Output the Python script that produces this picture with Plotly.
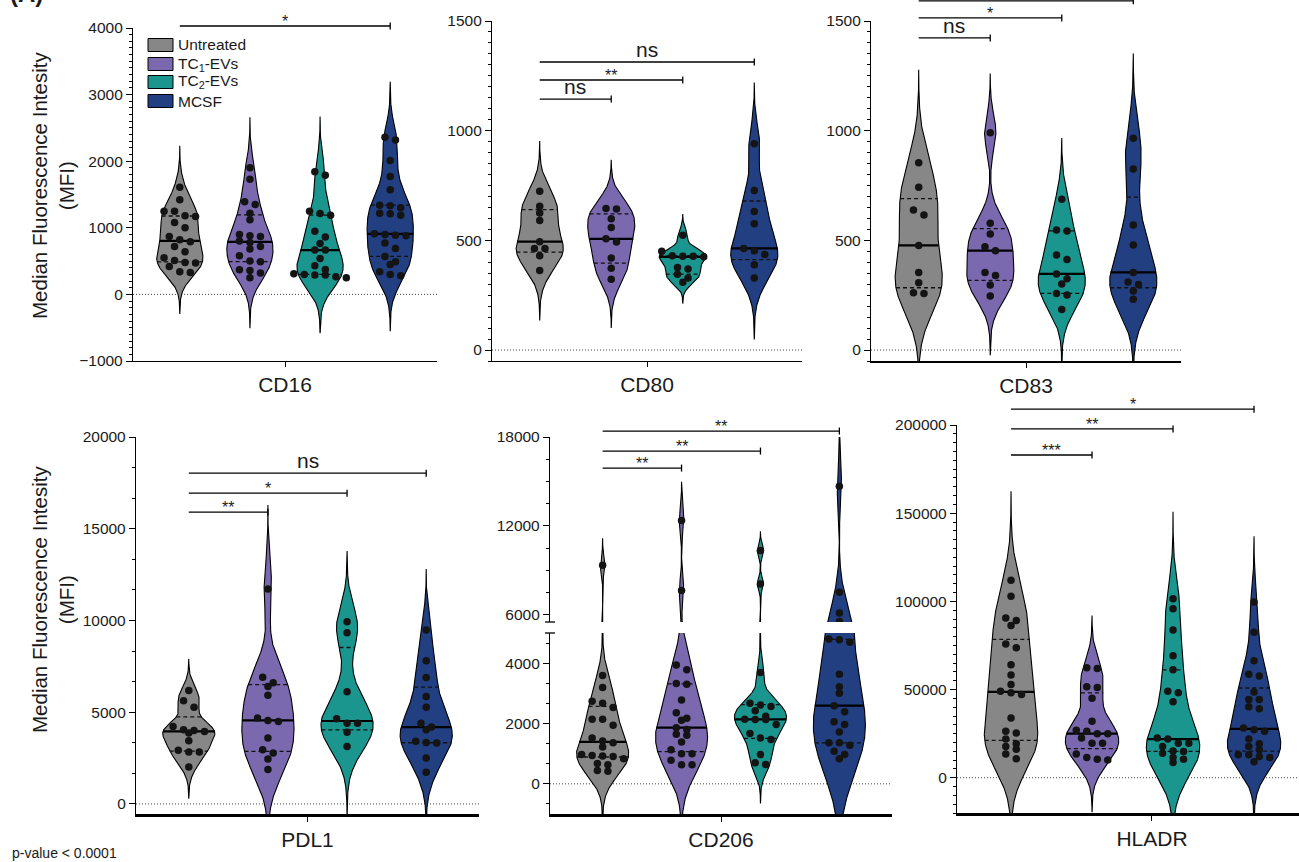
import numpy as np
import plotly.graph_objects as go

W, H = 1299, 862
FONT = "Liberation Sans, Arial, Helvetica, sans-serif"

# ---------------- data ----------------
groups = ["Untreated", "TC<sub>1</sub>-EVs", "TC<sub>2</sub>-EVs", "MCSF"]
group_colors = ["#878787", "#7b69b0", "#1a968f", "#223f82"]
markers = ["CD16", "CD80", "CD83", "PDL1", "CD206", "HLADR"]

cd16_untreated = [1610, 1420, 1250, 1250, 1180, 1170, 1080, 1000, 870, 820, 790, 720, 640, 550, 510, 480, 470, 420, 340, 330]
cd16_tc1 = [1900, 1730, 1390, 1350, 1220, 1120, 900, 880, 870, 800, 780, 720, 680, 580, 500, 490, 370, 360, 320, 250]
cd16_tc2 = [1840, 1790, 1250, 1215, 1190, 950, 860, 765, 665, 665, 540, 430, 375, 310, 300, 290, 290, 265, 250]
cd16_mcsf = [2360, 2320, 2010, 1770, 1570, 1340, 1330, 1300, 1220, 1210, 1190, 910, 900, 890, 880, 770, 690, 570, 490, 450, 340, 300, 280]

cd80_untreated = [724, 655, 625, 591, 494, 463, 463, 430, 363]
cd80_tc1 = [645, 643, 599, 559, 507, 492, 419, 373, 323]
cd80_tc2 = [523, 450, 430, 427, 427, 425, 376, 369, 346, 328, 309]
cd80_mcsf = [940, 727, 632, 576, 463, 453, 436, 389, 328]

cd83_untreated = [854, 742, 638, 616, 477, 354, 307, 261, 258]
cd83_tc1 = [991, 578, 529, 471, 453, 354, 340, 296, 246]
cd83_tc2 = [687, 547, 543, 433, 413, 347, 325, 301, 258, 251, 185]
cd83_mcsf = [965, 825, 570, 479, 354, 310, 299, 269, 231]

pdl1_untreated = [6180, 5620, 5270, 4220, 4040, 4000, 3950, 3860, 3440, 2920, 2830, 2830, 2010]
pdl1_tc1 = [11720, 6900, 6610, 6400, 5920, 4680, 4550, 4490, 3590, 2950, 2770, 2450, 1870]
pdl1_tc2 = [9930, 9330, 6110, 4640, 4400, 4400, 3910, 3130]
pdl1_mcsf = [9480, 7810, 6890, 5850, 5270, 4400, 4190, 4040, 3410, 3350, 3320, 2500, 1720]

cd206_untreated = [9340, 3590, 3190, 2740, 2670, 2530, 2140, 2140, 1940, 1520, 1420, 1360, 1220, 970, 940, 920, 910, 830, 670, 630, 440, 420]
cd206_tc1 = [12360, 7620, 3940, 3780, 3330, 3300, 2780, 2360, 2170, 2110, 1860, 1800, 1640, 1610, 1390, 1130, 1000, 1000, 780, 630, 630]
cd206_tc2 = [10330, 8070, 3690, 2670, 2610, 2560, 2420, 2240, 2140, 2130, 2130, 1970, 1670, 1520, 1470, 970, 700, 640]
cd206_mcsf = [14680, 7510, 6110, 5530, 4800, 4780, 4690, 3630, 3220, 3000, 2590, 2390, 2060, 1970, 1720, 1360, 1360, 1280, 1080, 970, 830]

hladr_untreated = [112000, 102900, 90500, 89200, 86300, 75800, 73700, 64000, 58300, 52800, 49100, 48200, 47200, 33900, 26300, 25300, 21900, 19200, 17700, 16200, 13500, 10700]
hladr_tc1 = [62300, 61900, 51600, 51200, 45000, 32000, 26900, 26300, 25000, 25000, 22500, 19600, 19600, 13500, 11400, 10500, 10100]
hladr_tc2 = [101500, 95800, 83800, 69200, 61200, 49100, 48200, 43100, 22500, 21900, 19600, 19600, 17700, 15200, 14900, 13900, 11400, 10500, 8600]
hladr_mcsf = [99600, 82500, 66300, 58700, 57700, 48600, 44400, 44400, 40200, 39100, 28200, 27200, 26300, 21900, 19200, 17700, 15800, 13000, 13000, 12000, 11400, 9100]

# significance brackets: label, target group index, bracket level (data units)
sig_cd16_labels, sig_cd16_to, sig_cd16_y = ["*"], [3], [4030]
sig_cd80_labels, sig_cd80_to, sig_cd80_y = ["ns", "**", "ns"], [1, 2, 3], [1144, 1231, 1313]
sig_cd83_labels, sig_cd83_to, sig_cd83_y = ["ns", "*", "*"], [1, 2, 3], [1423, 1514, 1592]
sig_pdl1_labels, sig_pdl1_to, sig_pdl1_y = ["**", "*", "ns"], [1, 2, 3], [15900, 16940, 18030]
sig_cd206_labels, sig_cd206_to, sig_cd206_y = ["**", "**", "**"], [1, 2, 3], [15900, 17050, 18400]
sig_hladr_labels, sig_hladr_to, sig_hladr_y = ["***", "**", "*"], [1, 2, 3], [183000, 197800, 209000]

panel_data = {
    "CD16": [cd16_untreated, cd16_tc1, cd16_tc2, cd16_mcsf],
    "CD80": [cd80_untreated, cd80_tc1, cd80_tc2, cd80_mcsf],
    "CD83": [cd83_untreated, cd83_tc1, cd83_tc2, cd83_mcsf],
    "PDL1": [pdl1_untreated, pdl1_tc1, pdl1_tc2, pdl1_mcsf],
    "CD206": [cd206_untreated, cd206_tc1, cd206_tc2, cd206_mcsf],
    "HLADR": [hladr_untreated, hladr_tc1, hladr_tc2, hladr_mcsf],
}
panel_sig = {
    "CD16": (sig_cd16_labels, sig_cd16_to, sig_cd16_y),
    "CD80": (sig_cd80_labels, sig_cd80_to, sig_cd80_y),
    "CD83": (sig_cd83_labels, sig_cd83_to, sig_cd83_y),
    "PDL1": (sig_pdl1_labels, sig_pdl1_to, sig_pdl1_y),
    "CD206": (sig_cd206_labels, sig_cd206_to, sig_cd206_y),
    "HLADR": (sig_hladr_labels, sig_hladr_to, sig_hladr_y),
}

# ---------------- layout geometry (pixels) ----------------
# name, axis id, x0, x1, x range, x line width, label pos, segments (yid, ytop, ybottom, yrange, dtick, minor)
geometry = [
    ("CD16", 1, 133, 437, [-0.667, 3.667], 1.4, 1.5, [(1, 28, 361, [-1000, 4000], 1000, 100)]),
    ("CD80", 2, 492, 802, [-0.667, 3.667], 1.4, 1.5, [(2, 21, 361, [-50, 1500], 500, 50)]),
    ("CD83", 3, 871, 1181, [-0.667, 3.667], 2.2, 1.5, [(3, 21, 361, [-50, 1500], 500, 50)]),
    ("PDL1", 4, 136, 479, [-0.667, 3.667], 2.6, 1.5, [(4, 437, 814, [-550, 20000], 5000, 5000 / 3)]),
    ("CD206", 5, 550, 892, [-0.667, 3.667], 2.6, 1.5,
     [(5, 633, 814, [-1000, 5000], 2000, 2000 / 3), (7, 437, 622, [5500, 18000], 6000, 1500)]),
    ("HLADR", 6, 957, 1299, [-0.667, 3.555], 2.6, 1.74, [(6, 425, 813, [-20000, 200000], 50000, 5000)]),
]

HALF_W = 0.33
ROW_PX = 6.5
DX_PX = 10.5
TAIL_BW = 3.3


def sfx(n):
    return "" if n == 1 else str(n)


def seg_for(segs, v):
    for s in segs:
        if s[3][0] <= v <= s[3][1]:
            return s
    return segs[0]


def to_px(v, seg):
    _, y0, y1, yr = seg[:4]
    return y1 - (v - yr[0]) / (yr[1] - yr[0]) * (y1 - y0)


def kde(vals):
    v = np.asarray(vals, float)
    n = len(v)
    sd = v.std(ddof=1)
    q1, q3 = np.percentile(v, [25, 75])
    s = min(sd, (q3 - q1) / 1.34) if q3 > q1 else sd
    h = 0.9 * s * n ** -0.2
    grid = np.linspace(v.min() - TAIL_BW * h, v.max() + TAIL_BW * h, 800)
    d = np.exp(-0.5 * ((grid[:, None] - v[None, :]) / h) ** 2).sum(1)
    return grid, d / d.max()


def swarm(vals, segs, ppx):
    v = np.asarray(vals, float)
    pys = np.array([to_px(x, seg_for(segs, x)) for x in v])
    order = np.argsort(pys)
    rows = []
    for i in order:
        if rows and pys[i] - pys[rows[-1][0]] < ROW_PX:
            rows[-1].append(i)
        else:
            rows.append([i])
    offs = np.zeros(len(v))
    for r in rows:
        m = len(r)
        for k, i in enumerate(r):
            offs[i] = (k - (m - 1) / 2) * DX_PX / ppx
    return offs


fig = go.Figure()
layout = dict(
    width=W, height=H, margin=dict(l=0, r=0, t=0, b=0, pad=0, autoexpand=False),
    plot_bgcolor="white", paper_bgcolor="white", showlegend=False,
    font=dict(family=FONT, color="#1a1a1a"),
)
shapes, annotations = [], []

for name, ax, x0, x1, xr, xlw, labpos, segs in geometry:
    xa = "x" + sfx(ax)
    ppx = (x1 - x0) / (xr[1] - xr[0])
    base_y = "y" + sfx(segs[0][0])
    layout["xaxis" + sfx(ax)] = dict(
        domain=[x0 / W, x1 / W], range=xr, anchor=base_y, automargin=False,
        showline=True, linecolor="black", linewidth=xlw, showgrid=False, zeroline=False,
        tickmode="array", tickvals=[labpos], ticktext=[name], ticks="outside",
        ticklen=5, tickwidth=1.3, tickcolor="black",
        tickfont=dict(size=21, family=FONT, color="#1a1a1a"),
    )
    for yid, y0, y1, yr, dt, mn in segs:
        layout["yaxis" + sfx(yid)] = dict(
            domain=[1 - y1 / H, 1 - y0 / H], range=yr, anchor=xa, automargin=False,
            showline=True, linecolor="black", linewidth=1.3, showgrid=False, zeroline=False,
            tickmode="linear", tick0=0, dtick=dt, ticks="outside", ticklen=6,
            tickwidth=1.3, tickcolor="black", tickformat="d",
            tickfont=dict(size=15.5, family=FONT, color="#1a1a1a"),
            minor=dict(dtick=mn, tick0=0, ticks="outside", ticklen=3, tickwidth=1, tickcolor="black"),
        )
    vals_list = panel_data[name]
    # zero reference line
    fig.add_trace(go.Scatter(x=xr, y=[0, 0], mode="lines", xaxis=xa, yaxis=base_y,
                             line=dict(color="#444444", width=1, dash="1px,2px"), hoverinfo="skip"))
    for seg in segs:
        ya = "y" + sfx(seg[0])
        for gi, vals in enumerate(vals_list):
            grid, dn = kde(vals)
            xs = np.concatenate([gi + HALF_W * dn, (gi - HALF_W * dn)[::-1]])
            ys = np.concatenate([grid, grid[::-1]])
            fig.add_trace(go.Scatter(x=xs, y=ys, mode="lines", fill="toself",
                                     fillcolor=group_colors[gi], xaxis=xa, yaxis=ya,
                                     line=dict(color="black", width=1.1), hoverinfo="skip"))
        for gi, vals in enumerate(vals_list):
            grid, dn = kde(vals)
            q1, med, q3 = np.percentile(np.asarray(vals, float), [25, 50, 75], method="weibull")
            wm = np.interp(med, grid, dn) * HALF_W
            fig.add_trace(go.Scatter(x=[gi - wm, gi + wm], y=[med, med], mode="lines",
                                     xaxis=xa, yaxis=ya,
                                     line=dict(color="black", width=2.2), hoverinfo="skip"))
            qx, qy = [], []
            for q in (q1, q3):
                wq = np.interp(q, grid, dn) * HALF_W
                qx += [gi - wq, gi + wq, None]
                qy += [q, q, None]
            fig.add_trace(go.Scatter(x=qx, y=qy, mode="lines", xaxis=xa, yaxis=ya,
                                     line=dict(color="#111111", width=1.3, dash="4px,3px"),
                                     hoverinfo="skip"))
        for gi, vals in enumerate(vals_list):
            offs = swarm(vals, segs, ppx)
            fig.add_trace(go.Scatter(x=gi + offs, y=vals, mode="markers",
                                     xaxis=xa, yaxis=ya,
                                     marker=dict(color="#141414", size=7.5, line=dict(width=0)),
                                     hoverinfo="skip"))
    # significance brackets
    labels, tos, levels = panel_sig[name]
    bseg = segs[-1] if name == "CD206" else segs[0]
    byid, by0, by1, byr = bseg[:4]
    bya = "y" + sfx(byid)
    segh = by1 - by0

    def xd(x):
        return (x - xr[0]) / (xr[1] - xr[0])

    def yd(y):
        return (y - byr[0]) / (byr[1] - byr[0])

    for lab, to, lev in zip(labels, tos, levels):
        shapes.append(dict(type="line", xref=xa + " domain", yref=bya + " domain",
                           x0=xd(0), x1=xd(to), y0=yd(lev), y1=yd(lev),
                           line=dict(color="black", width=1.3)))
        shapes.append(dict(type="line", xref=xa + " domain", yref=bya + " domain",
                           x0=xd(to), x1=xd(to), y0=yd(lev) - 3.5 / segh, y1=yd(lev) + 3.5 / segh,
                           line=dict(color="black", width=1.3)))
        is_ns = lab == "ns"
        annotations.append(dict(x=xd(to / 2), y=yd(lev), xref=xa + " domain", yref=bya + " domain",
                                text=lab, showarrow=False, yanchor="bottom", xanchor="center",
                                yshift=-1 if is_ns else -6,
                                font=dict(size=21 if is_ns else 16, family=FONT, color="#1a1a1a")))

# broken-axis caps on CD206
for yc in (622, 633):
    shapes.append(dict(type="line", xref="paper", yref="paper", x0=545 / W, x1=555 / W,
                       y0=1 - yc / H, y1=1 - yc / H, line=dict(color="black", width=1.3)))

# manual legend
legend_rows = [45, 64, 82, 101]
for gi, yc in enumerate(legend_rows):
    shapes.append(dict(type="rect", xref="paper", yref="paper", x0=148 / W, x1=173 / W,
                       y0=1 - (yc + 6.5) / H, y1=1 - (yc - 6.5) / H,
                       fillcolor=group_colors[gi], line=dict(color="black", width=1)))
    annotations.append(dict(x=176 / W, y=1 - yc / H, xref="paper", yref="paper", text=groups[gi],
                            showarrow=False, xanchor="left", yanchor="middle",
                            font=dict(size=15.5, family=FONT, color="#1a1a1a")))

# y-axis titles
for yc in (186, 600):
    annotations.append(dict(x=53 / W, y=1 - yc / H, xref="paper", yref="paper",
                            text="Median Fluorescence Intesity<br>(MFI)", textangle=-90,
                            showarrow=False, xanchor="center", yanchor="middle",
                            font=dict(size=20.5, family=FONT, color="#1a1a1a")))

annotations.append(dict(x=10 / W, y=1 - 853 / H, xref="paper", yref="paper", text="p-value < 0.0001",
                        showarrow=False, xanchor="left", yanchor="middle",
                        font=dict(size=14, family=FONT, color="#1a1a1a")))
annotations.append(dict(x=8 / W, y=1 - 9 / H, xref="paper", yref="paper", text="<b>(A)</b>",
                        showarrow=False, xanchor="left", yanchor="bottom",
                        font=dict(size=24, family=FONT, color="#1a1a1a")))

layout["shapes"] = shapes
layout["annotations"] = annotations
fig.update_layout(**layout)
fig.write_html("out.html")
